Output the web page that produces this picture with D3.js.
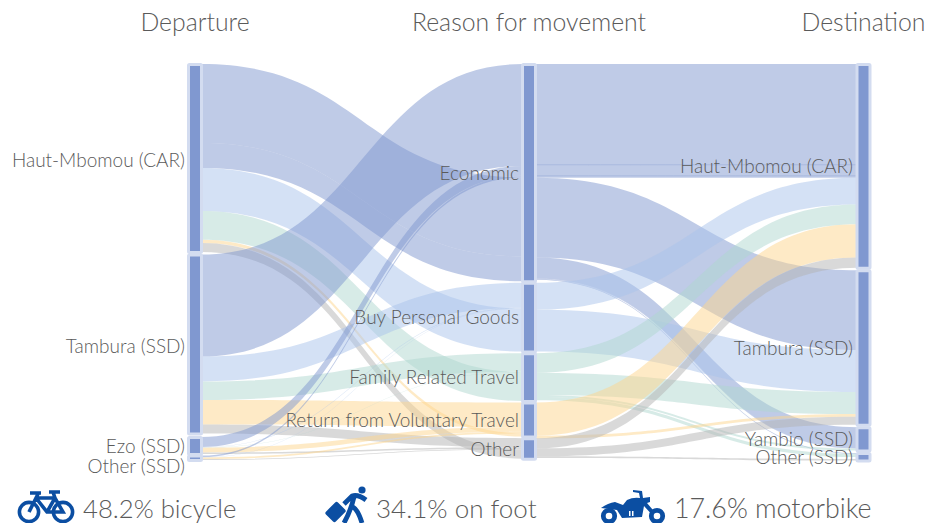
<!DOCTYPE html>
<html>
<head>
<meta charset="utf-8">
<script src="https://cdnjs.cloudflare.com/ajax/libs/d3/7.8.5/d3.min.js"></script>
<style>
  html, body { margin: 0; padding: 0; background: #fff; }
  text { font-family: Lato, sans-serif; font-weight: 300; fill: #5a5a5a; }
</style>
</head>
<body>
<div id="chart"></div>
<script>
var headers = ["Departure", "Reason for movement", "Destination"];
var departures = ["Haut-Mbomou (CAR)", "Tambura (SSD)", "Ezo (SSD)", "Other (SSD)"];
var reasons = ["Economic", "Buy Personal Goods", "Family Related Travel", "Return from Voluntary Travel", "Other"];
var destinations = ["Haut-Mbomou (CAR)", "Tambura (SSD)", "Yambio (SSD)", "Other (SSD)"];
var modes = ["48.2% bicycle", "34.1% on foot", "17.6% motorbike"];

// flows in percent, [departure, value], listed in the order they enter each reason
var intoEconomic = [[1, 25.8], [2, 2.5], [3, 0.4], [0, 20.0], [0, 6.3]];
var intoGoods = [[1, 6.3], [2, 0.1], [3, 0.1], [0, 10.9]];
var intoFamily = [[1, 4.7], [2, 0.1], [0, 7.3]];
var intoReturn = [[1, 6.2], [2, 1.2], [3, 0.4], [0, 0.8]];
var intoOther = [[1, 2.3], [2, 0.4], [3, 0.2], [0, 2.3]];

// flows in percent, [reason, value], listed in the order they enter each destination
// reason null = part of the node with no drawn flow
var intoHaut = [[0, 25.5], [0, 2.8], [0, 0.5], [1, 6.8], [2, 5.0], [3, 8.4], [4, 2.6]];
var intoTambura = [[0, 20.2], [1, 10.6], [2, 5.6], [3, 0.7], [4, 2.0]];
var intoYambio = [[0, 5.3], [0, 0.1], [2, 0.5]];
var intoOtherDest = [[0, 0.2], [2, 0.8], [null, 0.5], [4, 0.4]];

var linkColors = ["rgba(127,152,208,0.5)", "rgba(170,196,236,0.5)", "rgba(175,215,207,0.5)",
    "rgba(253,213,141,0.5)", "rgba(179,179,179,0.5)"];

var width = 927;
var height = 523;
var topY = 64;
var nodeWidth = 13;
var leftGaps = [2.6, 3.5, 1.5];
var midGaps = [1.6, 1.6, 1.6, 1.6];
var rightGaps = [2.5, 2.5, 2.5];
var colX = [188.5, 522.5, 857];
var leftShift = [2, 2, 0, 8];
var midShift = [0, 0, 0, 0, 1];

var h = d3.scaleLinear().domain([0, 100]).range([0, 395]);

var svg = d3.select("#chart").append("svg")
    .attr("width", width)
    .attr("height", height)
    .style("display", "block");

// stacks the flows of one side of a column, returns node extents and link ends
function layoutColumn(groups, gaps) {
    var y = topY;
    return groups.map(function (g, i) {
        var node = { y0: y, items: [] };
        g.forEach(function (f) {
            node.items.push({ other: f[0], value: f[1], y0: y, y1: y + h(f[1]) });
            y += h(f[1]);
        });
        node.y1 = y;
        y += gaps[i] || 0;
        return node;
    });
}

var midIn = layoutColumn([intoEconomic, intoGoods, intoFamily, intoReturn, intoOther], midGaps);
var rightIn = layoutColumn([intoHaut, intoTambura, intoYambio, intoOtherDest], rightGaps);

// left column: stack each departure's flows by reason order
var leftGroups = departures.map(function (d, i) {
    var g = [];
    midIn.forEach(function (n, r) {
        n.items.forEach(function (it) {
            if (it.other == i) g.push([{ r: r, it: it }, it.value]);
        });
    });
    return g;
});
var leftNodes = layoutColumn(leftGroups, leftGaps);

// middle column, right side: stack each reason's flows by destination order
var midOutGroups = reasons.map(function (d, r) {
    var g = [];
    rightIn.forEach(function (n) {
        n.items.forEach(function (it) {
            if (it.other === r) g.push([it, it.value]);
        });
    });
    return g;
});
var midOut = layoutColumn(midOutGroups, midGaps);
midOut.forEach(function (n, i) {
    var shift = midIn[i].y0 - n.y0;
    n.items.forEach(function (it) { it.y0 += shift; it.y1 += shift; });
});

function ribbon(x0, x1, a0, a1, b0, b1, fill, parent) {
    var xm = (x0 + x1) / 2;
    var p = d3.path();
    p.moveTo(x0, a0);
    p.bezierCurveTo(xm, a0, xm, b0, x1, b0);
    p.lineTo(x1, b1);
    p.bezierCurveTo(xm, b1, xm, a1, x0, a1);
    p.closePath();
    return parent.append("path").attr("d", p.toString()).attr("fill", fill);
}

// links run under the node borders so their ends stay hidden
var links = svg.append("g");
var lx0 = colX[0] + nodeWidth;
var lx1 = colX[1];
var rx0 = colX[1] + nodeWidth;
var rx1 = colX[2];

leftNodes.forEach(function (n) {
    n.items.forEach(function (it) {
        ribbon(lx0, lx1, it.y0, it.y1, it.other.it.y0, it.other.it.y1, linkColors[it.other.r], links);
    });
});
midOut.forEach(function (n, r) {
    n.items.forEach(function (it, j) {
        var p = ribbon(rx0, rx1, it.y0, it.y1, it.other.y0, it.other.y1, linkColors[r], links);
        // the thin band in the top flow shows as two darker lines
        if (r == 0 && j == 1) p.attr("stroke", linkColors[0]).attr("stroke-width", 0.8);
    });
});

function drawNodes(nodes, x) {
    svg.append("g").selectAll("rect").data(nodes).join("rect")
        .attr("x", x)
        .attr("y", function (d) { return d.y0 + 0.5; })
        .attr("width", nodeWidth)
        .attr("height", function (d) { return d.y1 - d.y0; })
        .attr("rx", 1)
        .attr("fill", "#8098d0")
        .attr("stroke", "#d3dcf0")
        .attr("stroke-width", 3);
}
drawNodes(leftNodes, colX[0]);
drawNodes(midIn, colX[1]);
drawNodes(rightIn, colX[2]);

function drawLabels(names, nodes, x, shift) {
    svg.append("g").selectAll("text").data(names).join("text")
        .attr("x", x)
        .attr("y", function (d, i) { return (nodes[i].y0 + nodes[i].y1) / 2 + 7 + (shift ? shift[i] : 0); })
        .attr("text-anchor", "end")
        .style("font-size", "19px")
        .text(function (d) { return d; });
}
drawLabels(departures, leftNodes, 185, leftShift);
drawLabels(reasons, midIn, 519, midShift);
drawLabels(destinations, rightIn, 853);

svg.append("g").selectAll("text").data(headers).join("text")
    .attr("x", function (d, i) { return colX[i] + nodeWidth / 2; })
    .attr("y", 31)
    .attr("text-anchor", "middle")
    .style("font-size", "24.8px")
    .text(function (d) { return d; });

var modeX = [83, 376, 674];
var modeSizes = [25.7, 26, 26.8];
svg.append("g").selectAll("text").data(modes).join("text")
    .attr("x", function (d, i) { return modeX[i]; })
    .attr("y", 518)
    .style("font-size", function (d, i) { return modeSizes[i] + "px"; })
    .text(function (d) { return d; });

// transport icons
var blue = "#0b4ea2";
var bike = svg.append("g").attr("fill", "none").attr("stroke", blue).attr("stroke-width", 3.6);
bike.append("circle").attr("cx", 29).attr("cy", 512).attr("r", 9.6);
bike.append("circle").attr("cx", 63).attr("cy", 512).attr("r", 9.6);
bike.append("path").attr("d", "M29,512L38,494M30,493H41M36,498H55L63,512H47L36,498M47,512L55,498L53,492M49,492H60");

var walker = svg.append("g").attr("fill", blue);
walker.append("circle").attr("cx", 362).attr("cy", 490).attr("r", 3.6);
walker.append("rect").attr("x", 327).attr("y", 505).attr("width", 17).attr("height", 14).attr("rx", 2)
    .attr("transform", "rotate(-45 335.5 512)");
walker.append("path").attr("fill", "none").attr("stroke", blue).attr("stroke-width", 4.8)
    .attr("d", "M344,504L352,496Q358,494 366,500M354,497Q351,510 344,523M353,507Q358,510 362,523");

var motor = svg.append("g").attr("fill", blue);
motor.append("path").attr("d", "M601,508Q608,503 615,502L623,505L627,500Q633,497 640,498L639,493L633,492V490L642,491L643,498L650,497V502L647,503L658,516L655,518L644,506L642,517L622,518L617,510Z");
motor.append("rect").attr("x", 629).attr("y", 511).attr("width", 1.5).attr("height", 5).attr("fill", "#fff");
motor.append("rect").attr("x", 632).attr("y", 511).attr("width", 1.5).attr("height", 5).attr("fill", "#fff");
[609, 657].forEach(function (cx) {
    motor.append("circle").attr("cx", cx).attr("cy", 516).attr("r", 5.7)
        .attr("fill", "#fff").attr("stroke", blue).attr("stroke-width", 4.8);
});
</script>
</body>
</html>
